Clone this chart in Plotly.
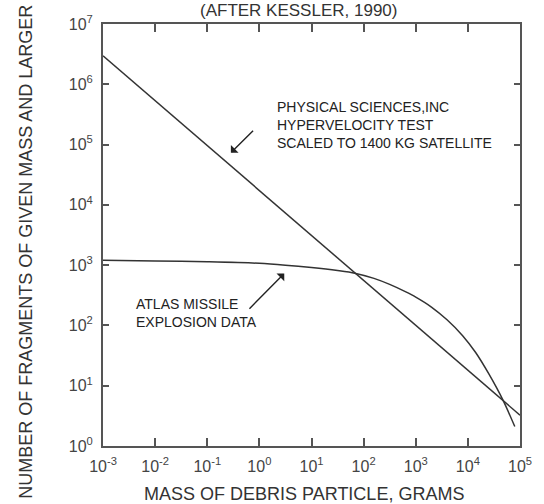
import plotly.graph_objects as go

# Data
psi_mass = [1e-3, 1e5]
psi_count = [2.98e6, 3.24]

atlas_mass = [0.001, 0.01, 0.1, 1, 3.16, 10, 31.6, 67.6, 158, 316, 631, 1000,
              2000, 3980, 7940, 14100, 25100, 47900, 79400]
atlas_count = [1208, 1175, 1135, 1072, 1000, 912, 813, 736, 603, 479, 363, 295,
               202, 124, 67.6, 35.5, 15.8, 5.6, 2.1]

x_tickvals = [1e-3, 1e-2, 1e-1, 1, 1e1, 1e2, 1e3, 1e4, 1e5]
x_ticktext = ["10<sup>-3</sup>", "10<sup>-2</sup>", "10<sup>-1</sup>", "10<sup>0</sup>",
              "10<sup>1</sup>", "10<sup>2</sup>", "10<sup>3</sup>", "10<sup>4</sup>", "10<sup>5</sup>"]
y_tickvals = [1, 1e1, 1e2, 1e3, 1e4, 1e5, 1e6, 1e7]
y_ticktext = ["10<sup>0</sup>", "10<sup>1</sup>", "10<sup>2</sup>", "10<sup>3</sup>",
              "10<sup>4</sup>", "10<sup>5</sup>", "10<sup>6</sup>", "10<sup>7</sup>"]

FONT = "Liberation Sans, Arial, sans-serif"
INK = "#333333"

fig = go.Figure()
fig.add_trace(go.Scatter(x=psi_mass, y=psi_count, mode="lines",
                         line=dict(color=INK, width=1.5), showlegend=False))
fig.add_trace(go.Scatter(x=atlas_mass, y=atlas_count, mode="lines",
                         line=dict(color=INK, width=1.5, shape="spline", smoothing=0.8),
                         showlegend=False))

axis_common = dict(type="log", showgrid=False, zeroline=False, showline=True,
                   linecolor="#555555", linewidth=2, mirror="ticks", ticks="inside",
                   tickcolor="#555555", tickwidth=1.5, ticklabelstandoff=5,
                   tickfont=dict(family=FONT, size=16, color="#444444"))

fig.update_xaxes(range=[-3, 5], tickvals=x_tickvals, ticktext=x_ticktext, ticklen=8,
                 **axis_common)
fig.update_yaxes(range=[0, 7], tickvals=y_tickvals, ticktext=y_ticktext, ticklen=6,
                 **axis_common)

annotations = [
    dict(text="PHYSICAL SCIENCES,INC<br>HYPERVELOCITY TEST<br>SCALED TO 1400 KG SATELLITE",
         x=0.293, y=5.332, xref="x", yref="y", xanchor="left", yanchor="middle",
         align="left", showarrow=False, font=dict(family=FONT, size=14, color="#222222")),
    dict(text="ATLAS MISSILE<br>EXPLOSION DATA",
         x=-2.397, y=2.203, xref="x", yref="y", xanchor="left", yanchor="middle",
         align="left", showarrow=False, font=dict(family=FONT, size=14, color="#222222")),
    dict(text="", x=-0.547, y=4.864, ax=-0.092, ay=5.252, xref="x", yref="y",
         axref="x", ayref="y", showarrow=True, arrowhead=1, arrowsize=1.3,
         arrowwidth=1.4, arrowcolor="#222222"),
    dict(text="", x=0.477, y=2.862, ax=-0.219, ay=2.252, xref="x", yref="y",
         axref="x", ayref="y", showarrow=True, arrowhead=1, arrowsize=1.3,
         arrowwidth=1.4, arrowcolor="#222222"),
    dict(text="NUMBER OF FRAGMENTS OF GIVEN MASS AND LARGER", textangle=-90,
         x=-0.185, y=0.46, xref="paper", yref="paper", xanchor="center", yanchor="middle",
         showarrow=False, font=dict(family=FONT, size=18, color="#333333")),
    dict(text="MASS OF DEBRIS PARTICLE, GRAMS",
         x=0.483, y=-0.1137, xref="paper", yref="paper", xanchor="center", yanchor="middle",
         showarrow=False, font=dict(family=FONT, size=18, color="#333333")),
    dict(text="(AFTER KESSLER, 1990)",
         x=0.47, y=1.0322, xref="paper", yref="paper", xanchor="center", yanchor="middle",
         showarrow=False, font=dict(family=FONT, size=17, color="#333333")),
]

fig.update_layout(width=544, height=504, margin=dict(l=103, r=18, t=24, b=58),
                  paper_bgcolor="white", plot_bgcolor="white",
                  annotations=annotations)

fig.write_html("out.html")
